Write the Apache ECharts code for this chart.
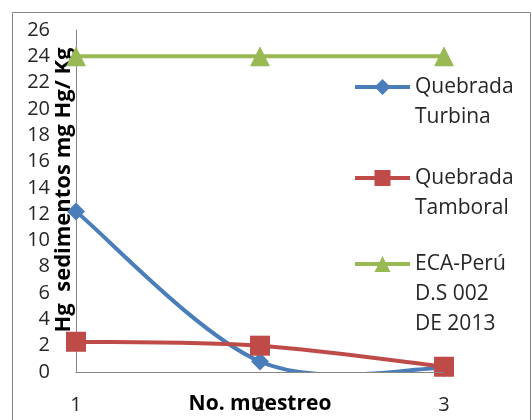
<!DOCTYPE html>
<html>
<head>
<meta charset="utf-8">
<script src="https://cdn.jsdelivr.net/npm/echarts@6/dist/echarts.min.js"></script>
<style>
  html, body { margin: 0; padding: 0; background: #fff; }
  #chart { width: 532px; height: 420px; }
</style>
</head>
<body>
<div id="chart"></div>
<script>
// Mercury in sediments per sampling round
const categories = ['1', '2', '3'];
const turbina = [12.2, 0.8, 0.3];
const tamboral = [2.3, 2.0, 0.4];
const ecaPeru = [24, 24, 24];
const seriesNames = ['Quebrada\nTurbina', 'Quebrada\nTamboral', 'ECA-Perú\nD.S 002\nDE 2013'];
const xTitle = 'No. muestreo';
const yTitle = 'Hg  sedimentos mg Hg/ Kg';

const FONT = '"Open Sans", "Liberation Sans", sans-serif';
const BLUE = '#4A7EBB';
const RED = '#BE4B48';
const GREEN = '#98B954';
const AXIS = '#868686';
const LINE_H = 30;

// One legend block per series; leading blank lines keep the first text line level with the icon.
function legendFor(name, top) {
  const extra = name.split('\n').length - 1;
  return {
    data: [name],
    left: 353,
    top: top,
    padding: 0,
    itemWidth: 55,
    itemHeight: 20,
    itemGap: 0,
    selectedMode: false,
    formatter: n => '\n'.repeat(extra) + n,
    lineStyle: { opacity: 1, width: 4 },
    textStyle: { fontFamily: FONT, fontSize: 21, color: '#262626', lineHeight: LINE_H }
  };
}

// Smoothed curve through the series points (cardinal spline drawn as cubic Béziers).
function curveSeries(values, color) {
  return {
    type: 'custom',
    data: values.map((v, i) => [i, v]),
    z: 1,
    clip: true,
    silent: true,
    renderItem: (params, api) => {
      const i = params.dataIndex;
      if (i >= values.length - 1) return null;
      const pt = k => {
        const j = Math.max(0, Math.min(values.length - 1, k));
        return api.coord([j, values[j]]);
      };
      const p0 = pt(i - 1), p1 = pt(i), p2 = pt(i + 1), p3 = pt(i + 2);
      const c1 = [p1[0] + (p2[0] - p0[0]) / 6, p1[1] + (p2[1] - p0[1]) / 6];
      const c2 = [p2[0] - (p3[0] - p1[0]) / 6, p2[1] - (p3[1] - p1[1]) / 6];
      return {
        type: 'bezierCurve',
        shape: { x1: p1[0], y1: p1[1], cpx1: c1[0], cpy1: c1[1], cpx2: c2[0], cpy2: c2[1], x2: p2[0], y2: p2[1] },
        style: { stroke: color, lineWidth: 4, fill: null, lineCap: 'round' }
      };
    }
  };
}

function markerSeries(name, values, color, symbol, size) {
  return {
    name: name, type: 'line', data: values, z: 3,
    symbol: symbol, symbolSize: size, showAllSymbol: true,
    lineStyle: { color: color, width: 4, opacity: 0 },
    itemStyle: { color: color }
  };
}

const chart = echarts.init(document.getElementById('chart'), null, { renderer: 'canvas' });
chart.setOption({
  backgroundColor: '#fff',
  animation: false,
  graphic: [{
    type: 'rect',
    shape: { x: 12.5, y: 12.5, width: 518, height: 420 },
    style: { fill: 'none', stroke: AXIS, lineWidth: 1 },
    silent: true
  }],
  legend: [
    legendFor(seriesNames[0], 87 - 45),
    legendFor(seriesNames[1], 178 - 45),
    legendFor(seriesNames[2], 264 - 75)
  ],
  grid: { left: 76, right: 88, top: 30, bottom: 48, outerBoundsMode: 'none', containLabel: false },
  xAxis: {
    type: 'category',
    data: categories,
    boundaryGap: false,
    z: 4,
    axisLine: { lineStyle: { color: AXIS, width: 1 } },
    axisTick: { show: false },
    axisLabel: { fontFamily: FONT, fontSize: 20, color: '#262626', margin: 23 },
    name: xTitle,
    nameLocation: 'middle',
    nameGap: 22,
    nameMoveOverlap: false,
    nameTextStyle: { fontFamily: FONT, fontSize: 21, fontWeight: 'bold', color: '#000' }
  },
  yAxis: {
    type: 'value',
    min: 0,
    max: 26,
    interval: 2,
    splitLine: { show: false },
    axisLine: { show: true, lineStyle: { color: AXIS, width: 1 } },
    axisTick: { show: false },
    axisLabel: { fontFamily: FONT, fontSize: 20, color: '#262626', margin: 26, lineHeight: 20 },
    name: yTitle,
    nameLocation: 'middle',
    nameGap: 1,
    nameMoveOverlap: false,
    nameTextStyle: { fontFamily: FONT, fontSize: 22, fontWeight: 'bold', color: '#000', padding: [0, 0, 0, 22] }
  },
  series: [
    curveSeries(turbina, BLUE),
    markerSeries(seriesNames[0], turbina, BLUE, 'diamond', 18),
    curveSeries(tamboral, RED),
    markerSeries(seriesNames[1], tamboral, RED, 'rect', 20),
    curveSeries(ecaPeru, GREEN),
    markerSeries(seriesNames[2], ecaPeru, GREEN, 'triangle', 20)
  ]
});
</script>
</body>
</html>
